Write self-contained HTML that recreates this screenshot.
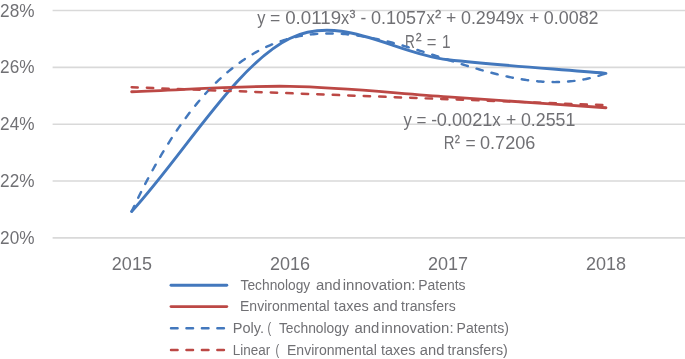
<!DOCTYPE html>
<html><head><meta charset="utf-8"><title>Chart</title>
<style>
html,body{margin:0;padding:0;background:#fff;}
body{width:685px;height:359px;overflow:hidden;font-family:"Liberation Sans",sans-serif;}
svg{display:block;will-change:transform}
text{font-family:"Liberation Sans",sans-serif;fill:#707074}
</style></head><body>
<svg width="685" height="359" viewBox="0 0 685 359">
<rect width="685" height="359" fill="#fff"/>
<line x1="52.6" y1="10.50" x2="685" y2="10.50" stroke="#d9d9d9" stroke-width="1.6"/>
<line x1="52.6" y1="67.35" x2="685" y2="67.35" stroke="#d9d9d9" stroke-width="1.6"/>
<line x1="52.6" y1="124.20" x2="685" y2="124.20" stroke="#d9d9d9" stroke-width="1.6"/>
<line x1="52.6" y1="181.05" x2="685" y2="181.05" stroke="#d9d9d9" stroke-width="1.6"/>
<line x1="52.6" y1="237.90" x2="685" y2="237.90" stroke="#d9d9d9" stroke-width="1.6"/>
<g>
<text transform="matrix(0.9827 0.0004 0 1 0.09 16.60)" font-size="17.5">28%</text>
<text transform="matrix(0.9827 0.0004 0 1 0.09 73.45)" font-size="17.5">26%</text>
<text transform="matrix(0.9827 0.0004 0 1 0.09 130.30)" font-size="17.5">24%</text>
<text transform="matrix(0.9827 0.0004 0 1 0.09 187.15)" font-size="17.5">22%</text>
<text transform="matrix(0.9827 0.0004 0 1 0.09 244.00)" font-size="17.5">20%</text>
<text transform="matrix(1.0294 0.0004 0 1 111.86 270.00)" font-size="17.5">2015</text>
<text transform="matrix(1.0294 0.0004 0 1 269.93 270.00)" font-size="17.5">2016</text>
<text transform="matrix(1.0294 0.0004 0 1 428.00 270.00)" font-size="17.5">2017</text>
<text transform="matrix(1.0294 0.0004 0 1 586.07 270.00)" font-size="17.5">2018</text>
<text transform="matrix(0.9371 0.0004 0 1 257.30 23.80)" font-size="17.5">y</text>
<text transform="matrix(1.0057 0.0004 0 1 269.98 23.80)" font-size="17.5">=</text>
<text transform="matrix(1.0692 0.0004 0 1 285.22 23.80)" font-size="17.5">0.0119</text>
<text transform="matrix(0.9371 0.0004 0 1 341.00 23.80)" font-size="17.5">x</text>
<text transform="matrix(0.9896 0.0004 0 1 360.46 23.80)" font-size="17.5">-</text>
<text transform="matrix(1.0312 0.0004 0 1 370.94 23.80)" font-size="17.5">0.1057</text>
<text transform="matrix(0.9486 0.0004 0 1 426.60 23.80)" font-size="17.5">x</text>
<text transform="matrix(1.0057 0.0004 0 1 445.88 23.80)" font-size="17.5">+</text>
<text transform="matrix(1.0235 0.0004 0 1 460.94 23.80)" font-size="17.5">0.2949</text>
<text transform="matrix(0.9486 0.0004 0 1 515.50 23.80)" font-size="17.5">x</text>
<text transform="matrix(0.9829 0.0004 0 1 529.19 23.80)" font-size="17.5">+</text>
<text transform="matrix(1.0216 0.0004 0 1 543.84 23.80)" font-size="17.5">0.0082</text>
<text transform="matrix(0.9760 0.0004 0 1 349.46 17.90)" font-size="11" stroke="#707074" stroke-width="0.3">3</text>
<text transform="matrix(1.0279 0.0004 0 1 434.97 17.90)" font-size="11" stroke="#707074" stroke-width="0.3">2</text>
<text transform="matrix(0.7783 0.0004 0 1 405.04 47.70)" font-size="17.5">R</text>
<text transform="matrix(0.9486 0.0004 0 1 426.82 47.70)" font-size="17.5">=</text>
<text transform="matrix(0.8828 0.0004 0 1 441.93 47.70)" font-size="17.5">1</text>
<text transform="matrix(0.9697 0.0004 0 1 415.80 40.80)" font-size="11" stroke="#707074" stroke-width="0.3">2</text>
<text transform="matrix(0.9486 0.0004 0 1 403.50 125.50)" font-size="17.5">y</text>
<text transform="matrix(0.9714 0.0004 0 1 416.60 125.50)" font-size="17.5">=</text>
<text transform="matrix(0.9896 0.0004 0 1 431.36 125.50)" font-size="17.5">-</text>
<text transform="matrix(1.0389 0.0004 0 1 436.83 125.50)" font-size="17.5">0.0021</text>
<text transform="matrix(0.9600 0.0004 0 1 492.30 125.50)" font-size="17.5">x</text>
<text transform="matrix(1.0057 0.0004 0 1 505.98 125.50)" font-size="17.5">+</text>
<text transform="matrix(1.0178 0.0004 0 1 520.94 125.50)" font-size="17.5">0.2551</text>
<text transform="matrix(0.8533 0.0004 0 1 443.63 149.40)" font-size="17.5">R</text>
<text transform="matrix(0.9943 0.0004 0 1 465.48 149.40)" font-size="17.5">=</text>
<text transform="matrix(1.0331 0.0004 0 1 480.04 149.40)" font-size="17.5">0.7206</text>
<text transform="matrix(0.8533 0.0004 0 1 454.86 142.90)" font-size="11" stroke="#707074" stroke-width="0.3">2</text>
<text transform="matrix(0.9504 0.0004 0 1 240.58 289.50)" font-size="14.5">Technology</text>
<text transform="matrix(1.0294 0.0004 0 1 316.03 289.50)" font-size="14.5">and</text>
<text transform="matrix(1.0380 0.0004 0 1 342.76 289.50)" font-size="14.5">innovation:</text>
<text transform="matrix(0.9625 0.0004 0 1 418.21 289.50)" font-size="14.5">Patents</text>
<text transform="matrix(0.9669 0.0004 0 1 240.00 310.90)" font-size="14.5">Environmental</text>
<text transform="matrix(1.0028 0.0004 0 1 334.10 310.90)" font-size="14.5">taxes</text>
<text transform="matrix(1.0207 0.0004 0 1 373.04 310.90)" font-size="14.5">and</text>
<text transform="matrix(0.9687 0.0004 0 1 401.10 310.90)" font-size="14.5">transfers</text>
<text transform="matrix(1.0029 0.0004 0 1 232.76 332.80)" font-size="14.5">Poly.</text>
<text transform="matrix(0.7602 0.0004 0 1 267.38 332.80)" font-size="14.5">(</text>
<text transform="matrix(0.9558 0.0004 0 1 278.88 332.80)" font-size="14.5">Technology</text>
<text transform="matrix(1.0294 0.0004 0 1 354.43 332.80)" font-size="14.5">and</text>
<text transform="matrix(1.0321 0.0004 0 1 381.26 332.80)" font-size="14.5">innovation:</text>
<text transform="matrix(0.9728 0.0004 0 1 456.50 332.80)" font-size="14.5">Patents)</text>
<text transform="matrix(0.9309 0.0004 0 1 232.85 354.80)" font-size="14.5">Linear</text>
<text transform="matrix(0.7602 0.0004 0 1 275.58 354.80)" font-size="14.5">(</text>
<text transform="matrix(0.9691 0.0004 0 1 287.00 354.80)" font-size="14.5">Environmental</text>
<text transform="matrix(0.9911 0.0004 0 1 381.00 354.80)" font-size="14.5">taxes</text>
<text transform="matrix(1.0163 0.0004 0 1 419.84 354.80)" font-size="14.5">and</text>
<text transform="matrix(0.9854 0.0004 0 1 447.60 354.80)" font-size="14.5">transfers)</text>
</g>
<path d="M131.65 211.46 C184.35 153.79 237.05 63.73 289.75 38.44 C342.45 13.15 395.15 53.89 447.85 59.71 C500.55 65.52 553.25 68.78 605.95 73.32" fill="none" stroke="#4378bd" stroke-width="2.9" stroke-linecap="round" stroke-linejoin="round"/>
<path d="M131.65 91.80 C184.35 90.00 237.05 85.54 289.75 86.39 C342.45 87.25 395.15 93.36 447.85 96.91 C500.55 100.47 553.25 104.11 605.95 107.71" fill="none" stroke="#bc4845" stroke-width="2.9" stroke-linecap="round" stroke-linejoin="round"/>
<path d="M131.65 211.46 L133.63 207.28 L135.60 203.15 L137.58 199.09 L139.56 195.08 L141.53 191.14 L143.51 187.25 L145.48 183.43 L147.46 179.66 L149.44 175.96 L151.41 172.31 L153.39 168.72 L155.36 165.19 L157.34 161.71 L159.32 158.29 L161.29 154.93 L163.27 151.62 L165.25 148.37 L167.22 145.18 L169.20 142.03 L171.17 138.95 L173.15 135.92 L175.13 132.94 L177.10 130.01 L179.08 127.14 L181.06 124.32 L183.03 121.55 L185.01 118.83 L186.99 116.17 L188.96 113.56 L190.94 110.99 L192.91 108.48 L194.89 106.01 L196.87 103.60 L198.84 101.23 L200.82 98.92 L202.79 96.65 L204.77 94.42 L206.75 92.25 L208.72 90.12 L210.70 88.04 L212.68 86.01 L214.65 84.02 L216.63 82.08 L218.60 80.18 L220.58 78.32 L222.56 76.51 L224.53 74.75 L226.51 73.02 L228.49 71.34 L230.46 69.71 L232.44 68.11 L234.41 66.56 L236.39 65.05 L238.37 63.58 L240.34 62.15 L242.32 60.76 L244.30 59.41 L246.27 58.10 L248.25 56.82 L250.22 55.59 L252.20 54.40 L254.18 53.24 L256.15 52.12 L258.13 51.04 L260.11 49.99 L262.08 48.98 L264.06 48.01 L266.04 47.07 L268.01 46.17 L269.99 45.30 L271.96 44.47 L273.94 43.67 L275.92 42.90 L277.89 42.17 L279.87 41.46 L281.85 40.80 L283.82 40.16 L285.80 39.55 L287.77 38.98 L289.75 38.44 L291.73 37.93 L293.70 37.44 L295.68 36.99 L297.65 36.57 L299.63 36.17 L301.61 35.80 L303.58 35.46 L305.56 35.15 L307.54 34.87 L309.51 34.61 L311.49 34.38 L313.47 34.18 L315.44 34.00 L317.42 33.84 L319.39 33.72 L321.37 33.61 L323.35 33.53 L325.32 33.47 L327.30 33.44 L329.28 33.43 L331.25 33.44 L333.23 33.47 L335.20 33.53 L337.18 33.61 L339.16 33.70 L341.13 33.82 L343.11 33.96 L345.09 34.12 L347.06 34.30 L349.04 34.49 L351.01 34.71 L352.99 34.94 L354.97 35.19 L356.94 35.46 L358.92 35.74 L360.90 36.04 L362.87 36.36 L364.85 36.70 L366.82 37.04 L368.80 37.41 L370.78 37.79 L372.75 38.18 L374.73 38.58 L376.70 39.00 L378.68 39.44 L380.66 39.88 L382.63 40.34 L384.61 40.81 L386.59 41.29 L388.56 41.78 L390.54 42.28 L392.52 42.80 L394.49 43.32 L396.47 43.85 L398.44 44.39 L400.42 44.94 L402.40 45.50 L404.37 46.07 L406.35 46.64 L408.32 47.22 L410.30 47.81 L412.28 48.40 L414.25 49.00 L416.23 49.60 L418.21 50.21 L420.18 50.83 L422.16 51.45 L424.14 52.07 L426.11 52.70 L428.09 53.33 L430.06 53.96 L432.04 54.59 L434.02 55.23 L435.99 55.87 L437.97 56.51 L439.95 57.15 L441.92 57.79 L443.90 58.43 L445.87 59.07 L447.85 59.71 L449.83 60.34 L451.80 60.98 L453.78 61.62 L455.76 62.25 L457.73 62.88 L459.71 63.50 L461.68 64.13 L463.66 64.74 L465.64 65.36 L467.61 65.97 L469.59 66.57 L471.56 67.17 L473.54 67.76 L475.52 68.35 L477.49 68.93 L479.47 69.50 L481.45 70.07 L483.42 70.63 L485.40 71.18 L487.38 71.72 L489.35 72.25 L491.33 72.77 L493.30 73.28 L495.28 73.78 L497.26 74.27 L499.23 74.75 L501.21 75.22 L503.19 75.68 L505.16 76.12 L507.14 76.56 L509.11 76.97 L511.09 77.38 L513.07 77.77 L515.04 78.15 L517.02 78.51 L519.00 78.86 L520.97 79.19 L522.95 79.51 L524.92 79.81 L526.90 80.09 L528.88 80.36 L530.85 80.61 L532.83 80.84 L534.81 81.05 L536.78 81.25 L538.76 81.42 L540.73 81.58 L542.71 81.72 L544.69 81.83 L546.66 81.93 L548.64 82.01 L550.62 82.06 L552.59 82.09 L554.57 82.10 L556.54 82.09 L558.52 82.05 L560.50 82.00 L562.47 81.91 L564.45 81.81 L566.42 81.68 L568.40 81.52 L570.38 81.34 L572.35 81.13 L574.33 80.90 L576.31 80.64 L578.28 80.36 L580.26 80.04 L582.24 79.70 L584.21 79.33 L586.19 78.94 L588.16 78.51 L590.14 78.06 L592.12 77.57 L594.09 77.06 L596.07 76.51 L598.05 75.94 L600.02 75.33 L602.00 74.69 L603.97 74.02 L605.95 73.32" fill="none" stroke="#4378bd" stroke-width="2.45" stroke-linecap="round" stroke-dasharray="6.4 9.1" stroke-dashoffset="0.3"/>
<path d="M131.65 87.25 L605.95 105.16" fill="none" stroke="#bc4845" stroke-width="2.45" stroke-linecap="round" stroke-dasharray="6.4 9.1" stroke-dashoffset="0.3"/>
<line x1="171" y1="285.3" x2="226.8" y2="285.3" stroke="#4378bd" stroke-width="2.9" stroke-linecap="round"/>
<line x1="171" y1="306.6" x2="226.8" y2="306.6" stroke="#bc4845" stroke-width="2.9" stroke-linecap="round"/>
<line x1="171" y1="328.3" x2="227.8" y2="328.3" stroke="#4378bd" stroke-width="2.45" stroke-linecap="round" stroke-dasharray="6.6 8.85"/>
<line x1="171" y1="349.9" x2="227.8" y2="349.9" stroke="#bc4845" stroke-width="2.45" stroke-linecap="round" stroke-dasharray="6.6 8.85"/>
</svg></body></html>
